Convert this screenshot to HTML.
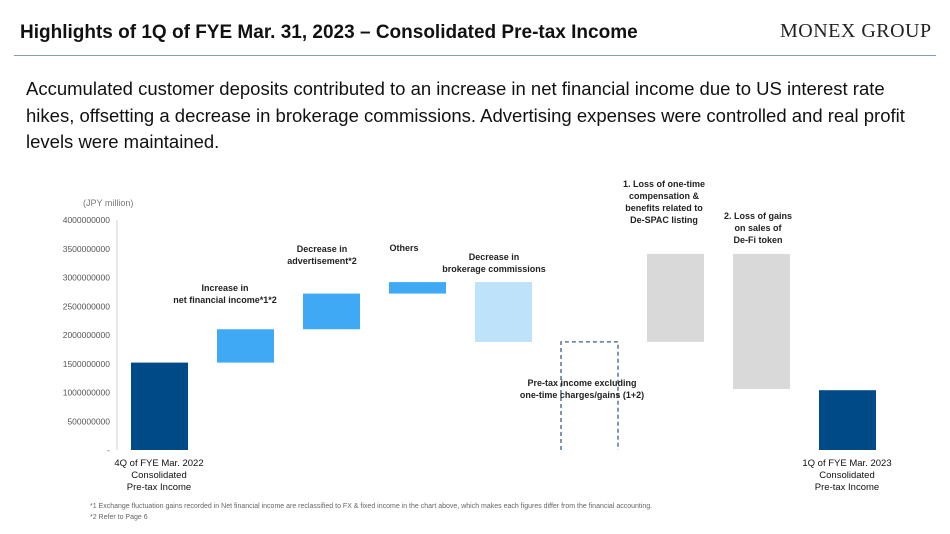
<!DOCTYPE html>
<html><head><meta charset="utf-8">
<style>
body{margin:0;width:950px;height:534px;background:#fff;font-family:"Liberation Sans",Arial,sans-serif;overflow:hidden;position:relative}
.t{position:absolute;white-space:nowrap}
</style></head>
<body>
<div class="t" style="left:20px;top:22px;font-size:19px;font-weight:bold;color:#111">Highlights of 1Q of FYE Mar. 31, 2023 – Consolidated Pre-tax Income</div>
<div class="t" style="left:780px;top:20px;font-size:20px;font-family:'Liberation Serif',serif;color:#222;letter-spacing:0.5px">MONEX GROUP</div>
<div style="position:absolute;left:14px;top:55px;width:922px;height:1px;background:#8a9bb0"></div>
<div class="t" style="left:26px;top:76px;font-size:18.5px;line-height:26.5px;color:#111;white-space:normal;width:910px">Accumulated customer deposits contributed to an increase in net financial income due to US interest rate hikes, offsetting a decrease in brokerage commissions. Advertising expenses were controlled and real profit levels were maintained.</div>
<svg id="chart" width="950" height="534" style="position:absolute;left:0;top:0" font-family="Liberation Sans, Arial, sans-serif"></svg>
<div class="t" style="left:90px;top:503px;font-size:7px;color:#666">*1 Exchange fluctuation gains recorded in Net financial income are reclassified to FX &amp; fixed income in the chart above, which makes each figures differ from the financial accounting.</div>
<div class="t" style="left:90px;top:514px;font-size:7px;color:#666">*2 Refer to Page 6</div>
<script>
const categories=["4Q FYE Mar.2022","Net financial income","Advertisement","Others","Brokerage commissions","Pre-tax excl. one-time","Loss 1","Loss 2","1Q FYE Mar.2023"];
const barStart=[0,1.52e9,2.10e9,2.72e9,2.92e9,0,1.88e9,3.41e9,0];
const barEnd=[1.52e9,2.10e9,2.72e9,2.92e9,1.88e9,1.88e9,3.41e9,1.06e9,1.04e9];
const barKind=["total","up","up","up","down","dashed","gray","gray","total"];
const ticks=[0,5e8,1e9,1.5e9,2e9,2.5e9,3e9,3.5e9,4e9];
const tickLabels=["-","500000000","1000000000","1500000000","2000000000","2500000000","3000000000","3500000000","4000000000"];
const svg=document.getElementById('chart');const NS='http://www.w3.org/2000/svg';
const y0=450,y1=220,vmax=4e9;
const yS=v=>y0-(v/vmax)*(y0-y1);
const xS=i=>131+i*86;const bw=57;
function mk(t,a){const e=document.createElementNS(NS,t);for(const k in a)e.setAttribute(k,a[k]);svg.appendChild(e);return e;}
const ax=mk('line',{x1:117,x2:117,y1:y1,y2:y0,stroke:'#d0d0d0'});


ticks.forEach((v,i)=>{const t=mk('text',{x:110,y:yS(v)+3,'text-anchor':'end','font-size':8.5,fill:'#555'});t.textContent=tickLabels[i];

});
const u=mk('text',{x:83,y:206,'font-size':9,fill:'#777'});u.textContent='(JPY million)';


const fills={total:'#004b87',up:'#3fa9f5',down:'#bfe2fb',gray:'#d9d9d9'};
categories.forEach((c,i)=>{const a=yS(Math.max(barStart[i],barEnd[i])),b=yS(Math.min(barStart[i],barEnd[i]));
let r;
if(barKind[i]==='dashed'){r=mk('path',{d:`M${xS(i)},${y0} V${a} H${xS(i)+bw} V${y0}`,fill:'none',stroke:'#3a5f85','stroke-width':1.3,'stroke-dasharray':'4,3'});}
else r=mk('rect',{x:xS(i),y:a,width:bw,height:b-a,fill:fills[barKind[i]]});

});
const labels=[
[159,466,["4Q of FYE Mar. 2022","Consolidated","Pre-tax Income"],false,'#111'],
[847,466,["1Q of FYE Mar. 2023","Consolidated","Pre-tax Income"],false,'#111'],
[225,291,["Increase in","net financial income*1*2"],true,'#222'],
[322,252,["Decrease in","advertisement*2"],true,'#222'],
[404,251,["Others"],true,'#222'],
[494,260,["Decrease in","brokerage commissions"],true,'#222'],
[582,386,["Pre-tax income excluding","one-time charges/gains (1+2)"],true,'#222'],
[664,187,["1. Loss of one-time","compensation &","benefits related to","De-SPAC listing"],true,'#222'],
[758,219,["2. Loss of gains","on sales of","De-Fi token"],true,'#222']];
labels.forEach((l,k)=>{l[2].forEach((s,j)=>{const t=mk('text',{x:l[0],y:l[1]+j*12,'text-anchor':'middle','font-size':l[3]?9:9.5,'font-weight':l[3]?'bold':'normal',fill:l[4]});t.textContent=s;

});});
</script>
</body></html>
